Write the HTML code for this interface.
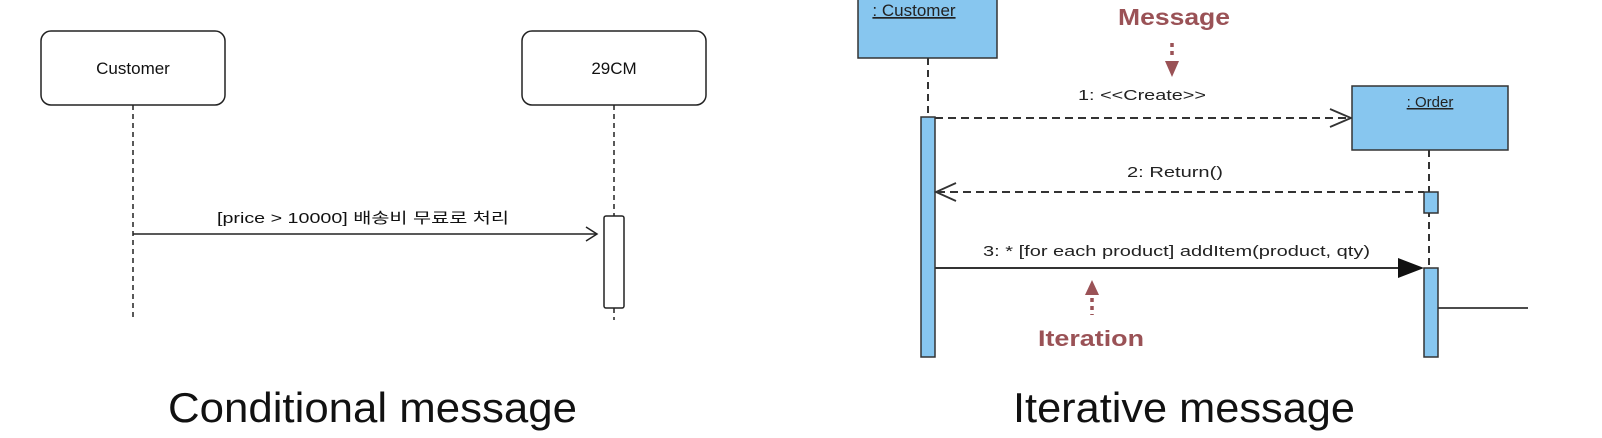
<!DOCTYPE html>
<html><head><meta charset="utf-8"><style>
html,body{margin:0;padding:0;background:#fff;}
svg{display:block;}
</style></head><body>
<svg width="1602" height="438" viewBox="0 0 1602 438" xmlns="http://www.w3.org/2000/svg" font-family="Liberation Sans, Noto Sans CJK KR, sans-serif">
<rect width="1602" height="438" fill="#fff"/>
<!-- Left diagram -->
<rect x="41" y="31" width="184" height="74" rx="10" fill="#fff" stroke="#222" stroke-width="1.5"/>
<text x="133" y="74" font-size="17" text-anchor="middle" fill="#111">Customer</text>
<rect x="522" y="31" width="184" height="74" rx="10" fill="#fff" stroke="#222" stroke-width="1.5"/>
<text x="614" y="74" font-size="17" text-anchor="middle" fill="#111">29CM</text>
<line x1="133" y1="105" x2="133" y2="320" stroke="#222" stroke-width="1.5" stroke-dasharray="5,4"/>
<line x1="614" y1="105" x2="614" y2="216" stroke="#222" stroke-width="1.5" stroke-dasharray="5,4"/>
<line x1="614" y1="308" x2="614" y2="320" stroke="#222" stroke-width="1.5" stroke-dasharray="5,4"/>
<rect x="604" y="216" width="20" height="92" rx="2" fill="#fff" stroke="#222" stroke-width="1.5"/>
<line x1="133" y1="234" x2="597" y2="234" stroke="#222" stroke-width="1.5"/>
<polyline points="586,227 597,234 586,241" fill="none" stroke="#222" stroke-width="1.5"/>
<text x="217" y="223" font-size="15" fill="#111" textLength="292" lengthAdjust="spacingAndGlyphs">[price &gt; 10000] 배송비 무료로 처리</text>
<text x="168" y="422" font-size="42" fill="#111" textLength="409" lengthAdjust="spacingAndGlyphs">Conditional message</text>

<!-- Right diagram -->
<rect x="858" y="-4" width="139" height="62" fill="#87c6ef" stroke="#333" stroke-width="1.5"/>
<text x="914" y="16" font-size="17" text-anchor="middle" fill="#222" text-decoration="underline">: Customer</text>
<line x1="928" y1="58" x2="928" y2="117" stroke="#333" stroke-width="2" stroke-dasharray="7,5"/>
<rect x="921" y="117" width="14" height="240" fill="#87c6ef" stroke="#333" stroke-width="1.5"/>
<text x="1118" y="25" font-size="23" font-weight="bold" fill="#9a5256" textLength="112" lengthAdjust="spacingAndGlyphs">Message</text>
<line x1="1172" y1="43" x2="1172" y2="58" stroke="#9a5256" stroke-width="3.5" stroke-dasharray="4,4"/>
<polygon points="1165,61 1179,61 1172,77" fill="#9a5256"/>
<text x="1078" y="100" font-size="15" fill="#222" textLength="128" lengthAdjust="spacingAndGlyphs">1: &lt;&lt;Create&gt;&gt;</text>
<line x1="935" y1="118" x2="1350" y2="118" stroke="#333" stroke-width="2" stroke-dasharray="8,5"/>
<polyline points="1330,109 1351,118 1330,127" fill="none" stroke="#333" stroke-width="1.8"/>
<rect x="1352" y="86" width="156" height="64" fill="#87c6ef" stroke="#333" stroke-width="1.5"/>
<text x="1430" y="107" font-size="15" text-anchor="middle" fill="#222" text-decoration="underline">: Order</text>
<line x1="1429" y1="150" x2="1429" y2="270" stroke="#333" stroke-width="2" stroke-dasharray="7,5"/>
<rect x="1424" y="192" width="14" height="21" fill="#87c6ef" stroke="#333" stroke-width="1.5"/>
<text x="1127" y="177" font-size="15" fill="#222" textLength="96" lengthAdjust="spacingAndGlyphs">2: Return()</text>
<line x1="937" y1="192" x2="1424" y2="192" stroke="#333" stroke-width="2" stroke-dasharray="8,5"/>
<polyline points="956,183 936,192 956,201" fill="none" stroke="#333" stroke-width="1.8"/>
<text x="983" y="256" font-size="15" fill="#222" textLength="387" lengthAdjust="spacingAndGlyphs">3: * [for each product] addItem(product, qty)</text>
<line x1="935" y1="268" x2="1400" y2="268" stroke="#333" stroke-width="2"/>
<polygon points="1398,258 1424,268 1398,278" fill="#111"/>
<rect x="1424" y="268" width="14" height="89" fill="#87c6ef" stroke="#333" stroke-width="1.5"/>
<line x1="1438" y1="308" x2="1528" y2="308" stroke="#333" stroke-width="1.8"/>
<polygon points="1092,280 1085,295 1099,295" fill="#9a5256"/>
<line x1="1092" y1="298" x2="1092" y2="315" stroke="#9a5256" stroke-width="3.5" stroke-dasharray="4,4"/>
<text x="1038" y="346" font-size="22" font-weight="bold" fill="#9a5256" textLength="106" lengthAdjust="spacingAndGlyphs">Iteration</text>
<text x="1013" y="422" font-size="42" fill="#111" textLength="342" lengthAdjust="spacingAndGlyphs">Iterative message</text>
</svg>
</body></html>
